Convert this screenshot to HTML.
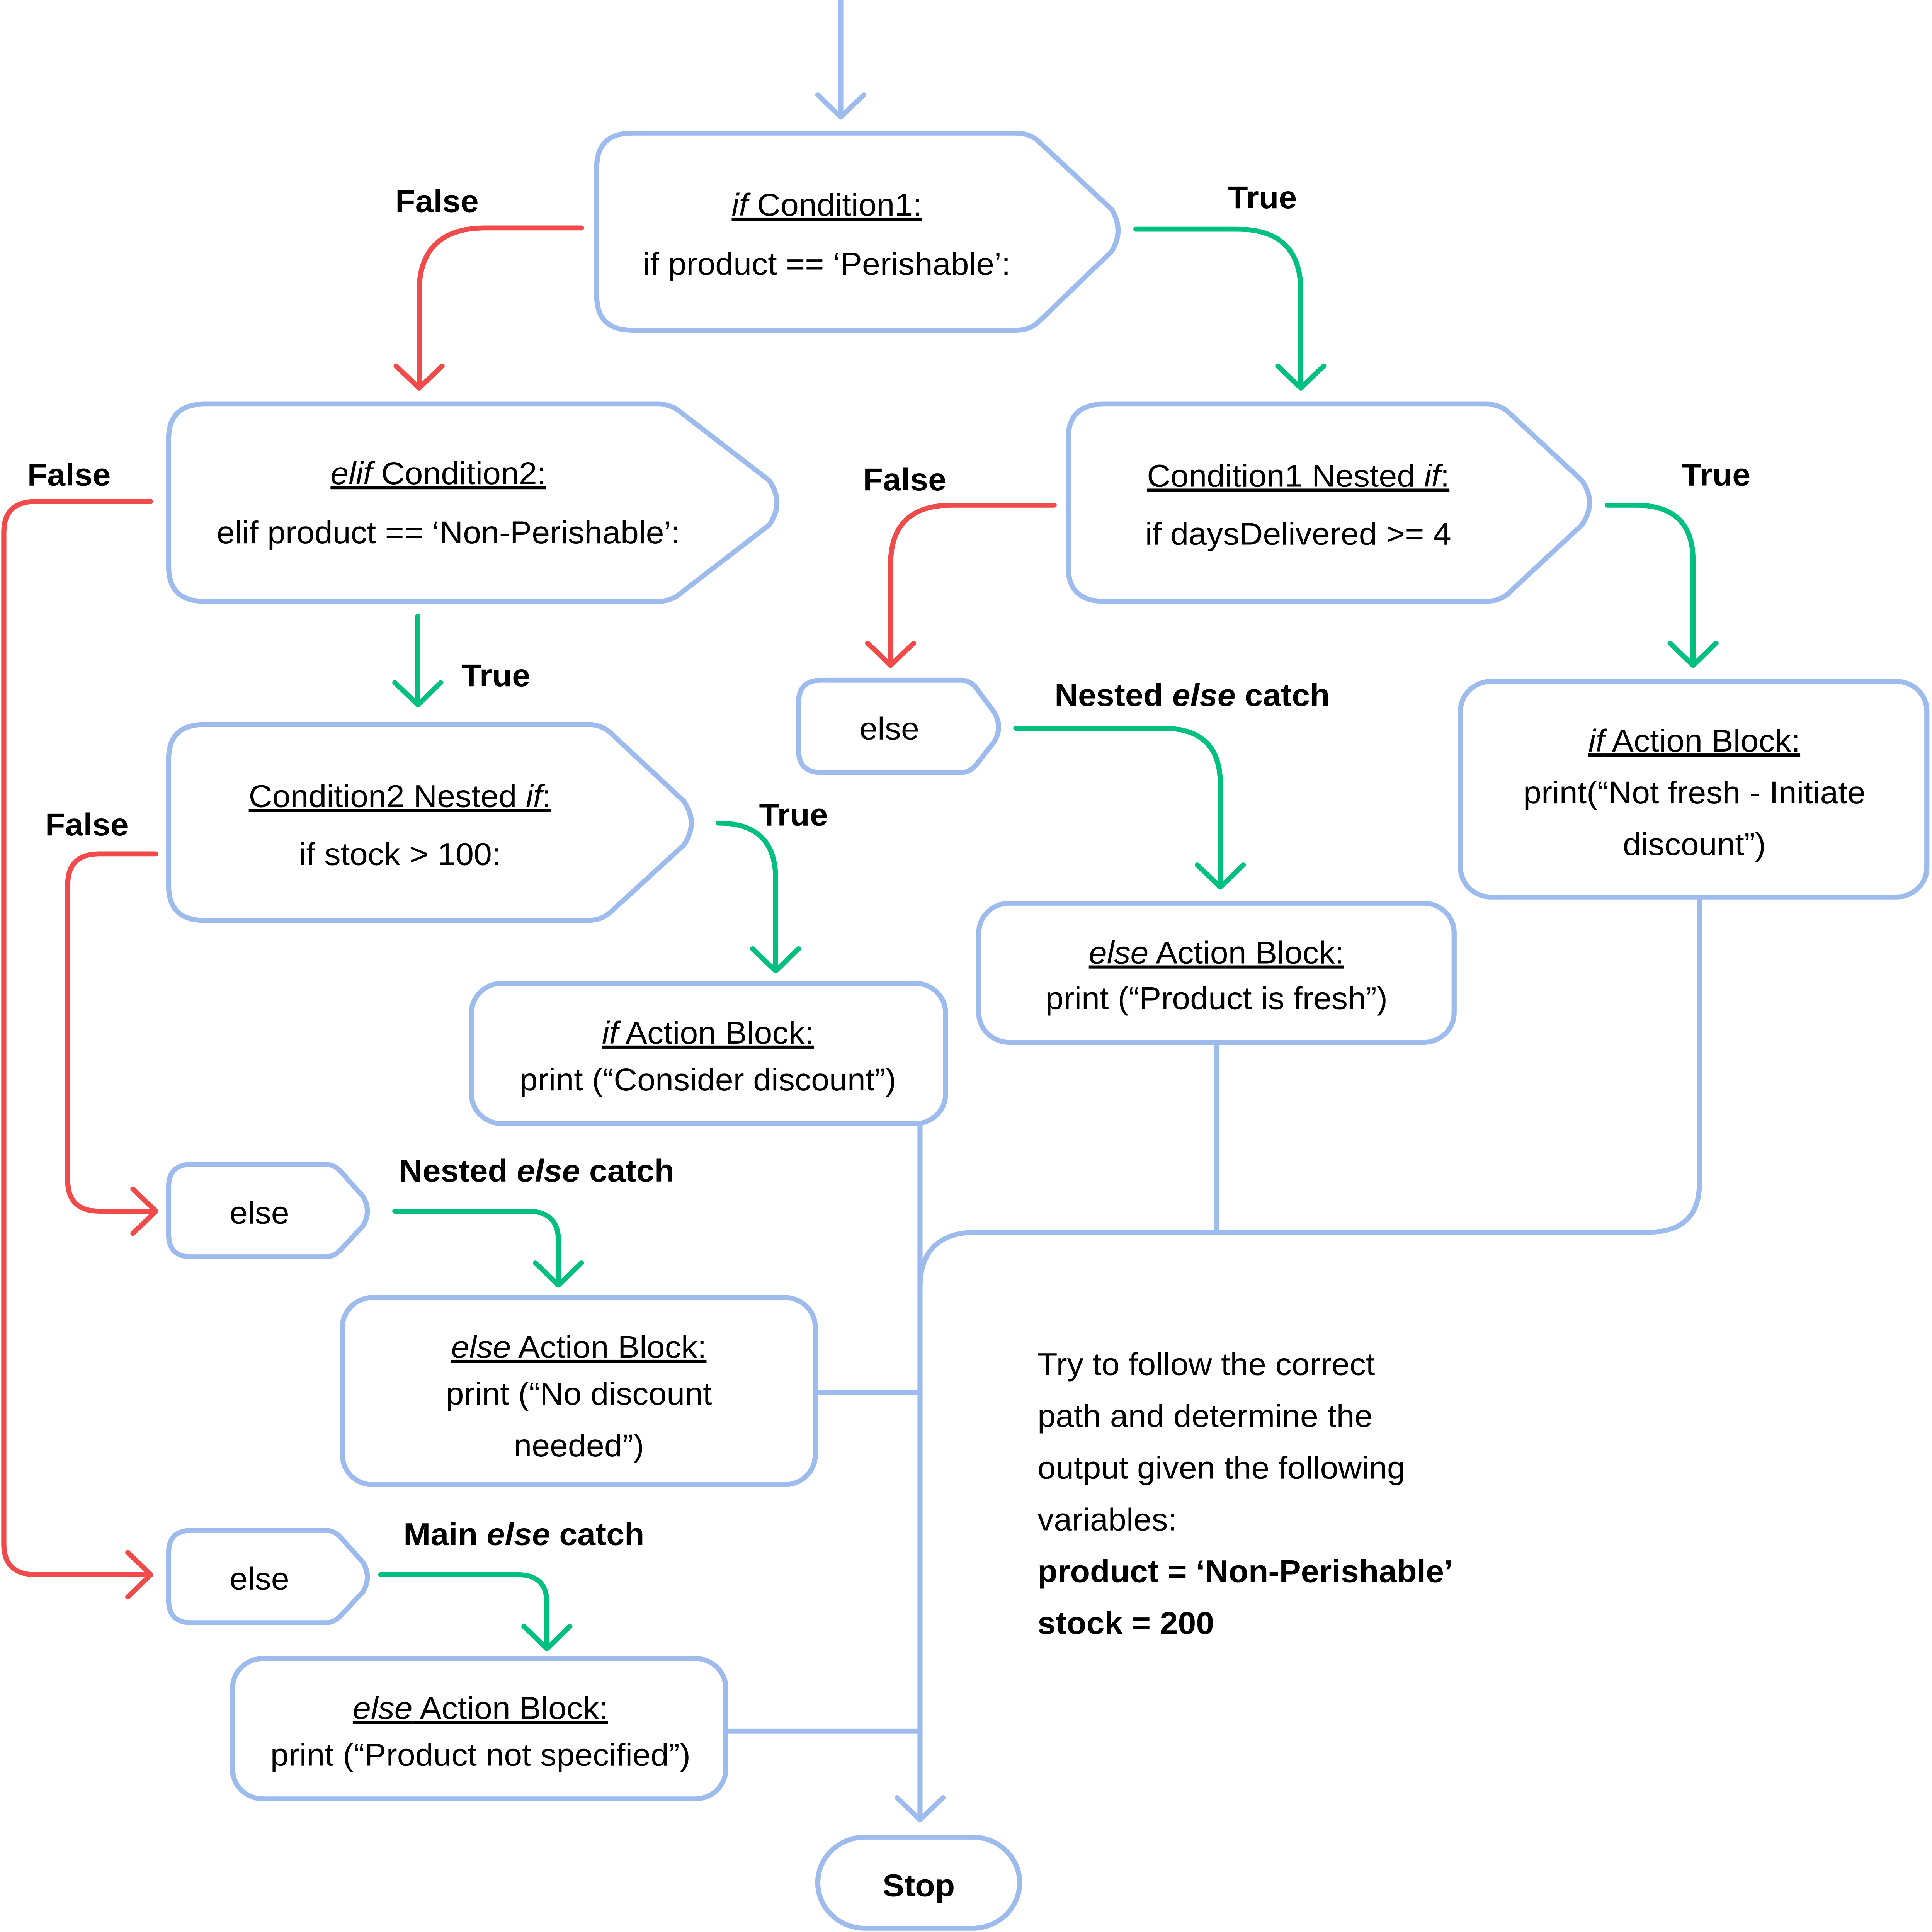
<!DOCTYPE html>
<html><head><meta charset="utf-8">
<style>html,body{margin:0;padding:0;background:#fff;width:100%;height:100%;overflow:hidden}svg{display:block;width:100vw;height:100vh}</style>
</head><body>
<svg xmlns="http://www.w3.org/2000/svg" viewBox="0 0 1512 1568" preserveAspectRatio="none">
<rect width="1512" height="1568" fill="#fff"/>
<g fill="none" stroke-width="4" stroke-linecap="round" stroke-linejoin="round">
<g stroke="#9dbbed">
<path d="M658 0 V95 M640 77 L658 95 L676 77"/>
<path d="M495 108 H795 Q805 108 812 114 L870 170 Q880 187 870 204 L812 262 Q805 268 795 268 H495 Q467 268 467 240 V136 Q467 108 495 108 Z"/>
<path d="M160 328 H515 Q525 328 532 334 L602 390 Q614 408 602 426 L532 482 Q525 488 515 488 H160 Q132 488 132 460 V356 Q132 328 160 328 Z"/>
<path d="M864 328 H1163 Q1173 328 1180 334 L1238 390 Q1250 408 1238 426 L1180 482 Q1173 488 1163 488 H864 Q836 488 836 460 V356 Q836 328 864 328 Z"/>
<path d="M160 588 H460 Q470 588 477 594 L535 650 Q547 668 535 686 L477 741 Q470 747 460 747 H160 Q132 747 132 719 V616 Q132 588 160 588 Z"/>
<path d="M643 552 H752 Q758 552 763 557 L778 578 Q785 590 778 602 L763 622 Q758 627 752 627 H643 Q625 627 625 609 V570 Q625 552 643 552 Z"/>
<path d="M150 945 H255 Q261 945 266 950 L284 971 Q291 983 284 995 L266 1015 Q261 1020 255 1020 H150 Q132 1020 132 1002 V963 Q132 945 150 945 Z"/>
<path d="M150 1242 H255 Q261 1242 266 1247 L284 1268 Q291 1280 284 1292 L266 1312 Q261 1317 255 1317 H150 Q132 1317 132 1299 V1260 Q132 1242 150 1242 Z"/>
<rect x="1143" y="553" width="365" height="175" rx="24"/>
<rect x="766" y="733" width="372" height="113" rx="24"/>
<rect x="369" y="798" width="371" height="114" rx="24"/>
<rect x="268" y="1053" width="370" height="152" rx="24"/>
<rect x="182" y="1346" width="386" height="114" rx="24"/>
<rect x="640" y="1491" width="158" height="74" rx="37"/>
<path d="M720 912 V1477 M702 1459 L720 1477 L738 1459"/>
<path d="M638 1130 H720 M568 1405 H720"/>
<path d="M720 1045 Q720 1000 765 1000 H1290 Q1330 1000 1330 960 V728"/>
<path d="M952 846 V1000"/>
</g>
<g stroke="#f04a4a">
<path d="M455 185 H380 Q328 185 328 237 V315 M310 297 L328 315 L346 297"/>
<path d="M825 410 H745 Q697 410 697 458 V540 M679 522 L697 540 L715 522"/>
<path d="M122 693 H78 Q53 693 53 718 V958 Q53 983 78 983 H122 M104 965 L122 983 L104 1001"/>
<path d="M118 407 H28 Q3 407 3 432 V1253 Q3 1278 28 1278 H118 M100 1260 L118 1278 L100 1296"/>
</g>
<g stroke="#00c07f">
<path d="M889 186 H968 Q1018 186 1018 236 V315 M1000 297 L1018 315 L1036 297"/>
<path d="M1258 410 H1280 Q1325 410 1325 455 V540 M1307 522 L1325 540 L1343 522"/>
<path d="M795 591 H910 Q955 591 955 636 V720 M937 702 L955 720 L973 702"/>
<path d="M327 500 V572 M309 554 L327 572 L345 554"/>
<path d="M562 668 Q607 668 607 713 V788 M589 770 L607 788 L625 770"/>
<path d="M309 983 H413 Q437 983 437 1007 V1043 M419 1025 L437 1043 L455 1025"/>
<path d="M298 1278 H405 Q428 1278 428 1301 V1338 M410 1320 L428 1338 L446 1320"/>
</g>
</g>
<g font-family="Liberation Sans, sans-serif" font-size="25.5" fill="#000" text-anchor="middle">
<text x="647" y="175" text-decoration="underline"><tspan font-style="italic">if</tspan> Condition1:</text>
<text x="647" y="223">if product == ‘Perishable’:</text>
<text x="343" y="393" text-decoration="underline"><tspan font-style="italic">elif</tspan> Condition2:</text>
<text x="351" y="441">elif product == ‘Non-Perishable’:</text>
<text x="1016" y="395" text-decoration="underline">Condition1 Nested <tspan font-style="italic">if</tspan>:</text>
<text x="1016" y="442">if daysDelivered &gt;= 4</text>
<text x="313" y="655" text-decoration="underline">Condition2 Nested <tspan font-style="italic">if</tspan>:</text>
<text x="313" y="702">if stock &gt; 100:</text>
<text x="696" y="600">else</text>
<text x="203" y="993">else</text>
<text x="203" y="1290">else</text>
<text x="1326" y="610" text-decoration="underline"><tspan font-style="italic">if</tspan> Action Block:</text>
<text x="1326" y="652">print(“Not fresh - Initiate</text>
<text x="1326" y="694">discount”)</text>
<text x="952" y="782" text-decoration="underline"><tspan font-style="italic">else</tspan> Action Block:</text>
<text x="952" y="819">print (“Product is fresh”)</text>
<text x="554" y="847" text-decoration="underline"><tspan font-style="italic">if</tspan> Action Block:</text>
<text x="554" y="885">print (“Consider discount”)</text>
<text x="453" y="1102" text-decoration="underline"><tspan font-style="italic">else</tspan> Action Block:</text>
<text x="453" y="1140">print (“No discount</text>
<text x="453" y="1182">needed”)</text>
<text x="376" y="1395" text-decoration="underline"><tspan font-style="italic">else</tspan> Action Block:</text>
<text x="376" y="1433">print (“Product not specified”)</text>
<g font-weight="bold">
<text x="719" y="1539">Stop</text>
<text x="342" y="172">False</text>
<text x="988" y="169">True</text>
<text x="54" y="394">False</text>
<text x="708" y="398">False</text>
<text x="1343" y="394">True</text>
<text x="388" y="557">True</text>
<text x="621" y="670">True</text>
<text x="68" y="678">False</text>
<text x="933" y="573">Nested <tspan font-style="italic">else</tspan> catch</text>
<text x="420" y="959">Nested <tspan font-style="italic">else</tspan> catch</text>
<text x="410" y="1254">Main <tspan font-style="italic">else</tspan> catch</text>
</g>
</g>
<g font-family="Liberation Sans, sans-serif" font-size="25.5" fill="#000">
<text x="812" y="1116">Try to follow the correct</text>
<text x="812" y="1158">path and determine the</text>
<text x="812" y="1200">output given the following</text>
<text x="812" y="1242">variables:</text>
<text x="812" y="1284" font-weight="bold">product = ‘Non-Perishable’</text>
<text x="812" y="1326" font-weight="bold">stock = 200</text>
</g>
</svg>
</body></html>
